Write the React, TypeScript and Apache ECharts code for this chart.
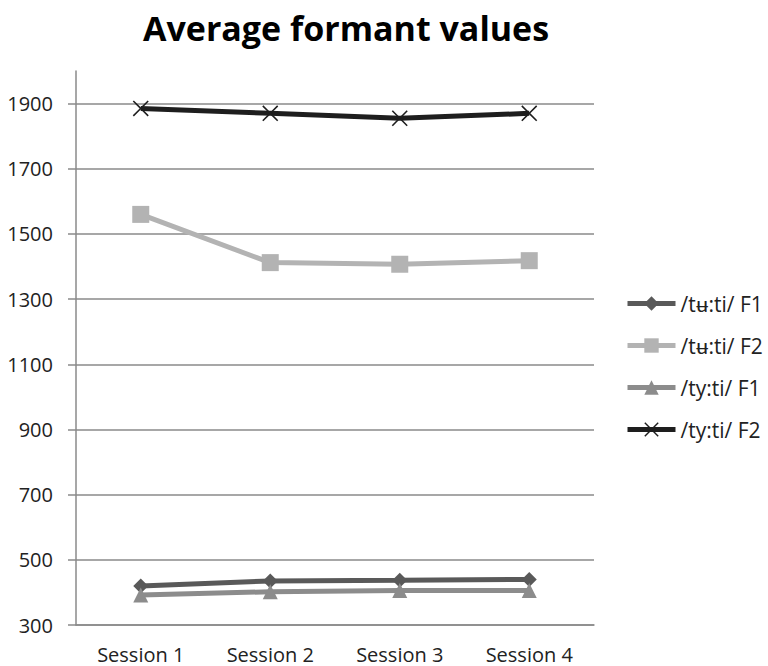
import React, { useEffect, useRef } from "react";
import * as echarts from "echarts";

const sessions = ["Session 1", "Session 2", "Session 3", "Session 4"];
const seriesNames = ["/tʉ:ti/ F1", "/tʉ:ti/ F2", "/ty:ti/ F1", "/ty:ti/ F2"];
const tuF1 = [420, 435, 437, 440];
const tuF2 = [1560, 1412, 1407, 1418];
const tyF1 = [392, 402, 406, 406];
const tyF2 = [1885, 1870, 1855, 1870];

const FONT = "'Open Sans', Lato, sans-serif";
const GRID_COLOR = "#8a8a8a";
const CROSS = "path://M0,0.7 L0.7,0 L5,4.3 L9.3,0 L10,0.7 L5.7,5 L10,9.3 L9.3,10 L5,5.7 L0.7,10 L0,9.3 L4.3,5 Z";

export default function App() {
  const ref = useRef<HTMLDivElement>(null);

  useEffect(() => {
    if (!ref.current) return;
    const chart = echarts.init(ref.current, null, { renderer: "svg" });

    const mk = (name: string, data: number[], color: string, symbol: string, size: number) => ({
      name,
      type: "line",
      data,
      symbol,
      symbolSize: size,
      showAllSymbol: true,
      lineStyle: { color, width: 5 },
      itemStyle: { color },
      emphasis: { disabled: true },
    });

    chart.setOption({
      animation: false,
      backgroundColor: "#ffffff",
      title: {
        text: "Average formant values",
        left: 138,
        top: 6,
        textStyle: { fontFamily: FONT, fontWeight: "bold", fontSize: 34, color: "#000" },
      },
      legend: {
        orient: "vertical",
        left: 625,
        top: 293,
        padding: 0,
        itemWidth: 48,
        itemHeight: 18,
        itemGap: 21,
        lineStyle: { width: 5 },
        textStyle: { fontFamily: FONT, fontSize: 21, lineHeight: 18, color: "#222" },
        data: seriesNames,
      },
      grid: { left: 76, right: 174, top: 71, bottom: 41 },
      xAxis: {
        type: "category",
        data: sessions,
        boundaryGap: true,
        axisLine: { lineStyle: { color: GRID_COLOR, width: 1.5 } },
        axisTick: { length: 7, lineStyle: { color: GRID_COLOR, width: 1.5 } },
        axisLabel: { fontFamily: FONT, fontSize: 20, color: "#222", margin: 19 },
      },
      yAxis: {
        type: "value",
        min: 300,
        max: 2000,
        interval: 200,
        axisLine: { show: true, lineStyle: { color: GRID_COLOR, width: 1.5 } },
        axisTick: { show: true, length: 8, lineStyle: { color: GRID_COLOR, width: 1.5 } },
        axisLabel: {
          fontFamily: FONT,
          fontSize: 20,
          color: "#222",
          margin: 23,
          showMaxLabel: false,
          formatter: (v: number) => String(v),
        },
        splitLine: { show: true, showMaxLine: false, lineStyle: { color: GRID_COLOR, width: 1.5 } },
      },
      series: [
        mk(seriesNames[0], tuF1, "#595959", "diamond", 15),
        mk(seriesNames[1], tuF2, "#b3b3b3", "rect", 17),
        mk(seriesNames[2], tyF1, "#8c8c8c", "triangle", 15),
        mk(seriesNames[3], tyF2, "#1e1e1e", CROSS, 16),
      ],
    });

    return () => chart.dispose();
  }, []);

  return (
    <div
      ref={ref}
      style={{ position: "fixed", left: 0, top: 0, width: 768, height: 666, background: "#fff" }}
    />
  );
}
